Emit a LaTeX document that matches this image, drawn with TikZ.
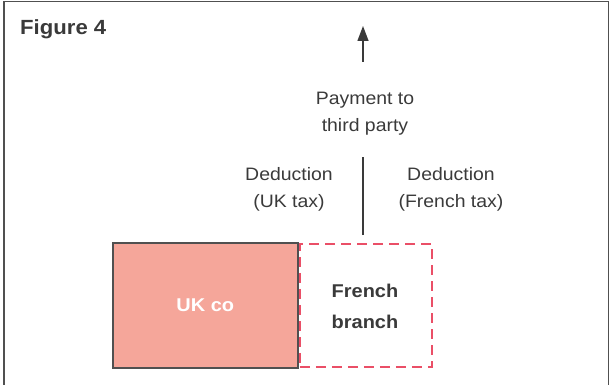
\documentclass[tikz,border=0pt]{standalone}
\usepackage{fontspec}
\setmainfont[FakeStretch=1.08]{Liberation Sans}
\usetikzlibrary{arrows.meta}
\definecolor{txt}{HTML}{3A3A3A}
\definecolor{frame}{HTML}{505050}
\definecolor{salmon}{HTML}{F5A69A}
\definecolor{dashred}{HTML}{EA4F67}
\tikzset{
  lbl/.style={text=txt, align=center, font=\fontsize{18}{27}\selectfont, inner sep=0pt},
  boldlbl/.style={align=center, font=\bfseries\fontsize{18.5}{31}\selectfont, inner sep=0pt},
  conn/.style={draw=txt, line width=1.4pt},
}
\begin{document}
\begin{tikzpicture}[x=1pt,y=-1pt]
\useasboundingbox (0,0) rectangle (610,385);
% frame
\draw[frame, line width=1.5pt] (4,386) -- (4,1.5) -- (608.5,1.5) -- (608.5,386);
\node[anchor=base west, inner sep=0pt, text=txt, font=\bfseries\fontsize{20.5}{24}\selectfont] (fig) at (20,35) {Figure 4};
% boxes
\node[draw=dashred, line width=1.7pt, dash pattern=on 10pt off 6pt, minimum width=132pt, minimum height=123pt, anchor=north west, inner sep=0pt] (fr) at (299,243) {};
\node[draw=frame, line width=1.6pt, fill=salmon, minimum width=185pt, minimum height=125pt, anchor=north west, inner sep=0pt] (uk) at (112,242) {};
\node[boldlbl, text=white] (ukt) at (uk.center) {UK co};
\node[boldlbl, text=txt] (frt) at (365,306) {French\\branch};
% labels
\node[lbl] (pay) at (365,113.5) {Payment to\\third party};
\node[lbl] (dl) at (289,189.5) {Deduction\\(UK tax)};
\node[lbl] (dr) at (451,189.5) {Deduction\\(French tax)};
% connectors
\coordinate (tip) at (363,26);
\coordinate (upbase) at (363,62);
\coordinate (lowtop) at (363,157);
\coordinate (lowbot) at (363,235);
\draw[conn, -{Triangle[length=15pt, width=11pt]}] (upbase) -- (tip);
\draw[conn] (lowbot) -- (lowtop);
\end{tikzpicture}
\end{document}
